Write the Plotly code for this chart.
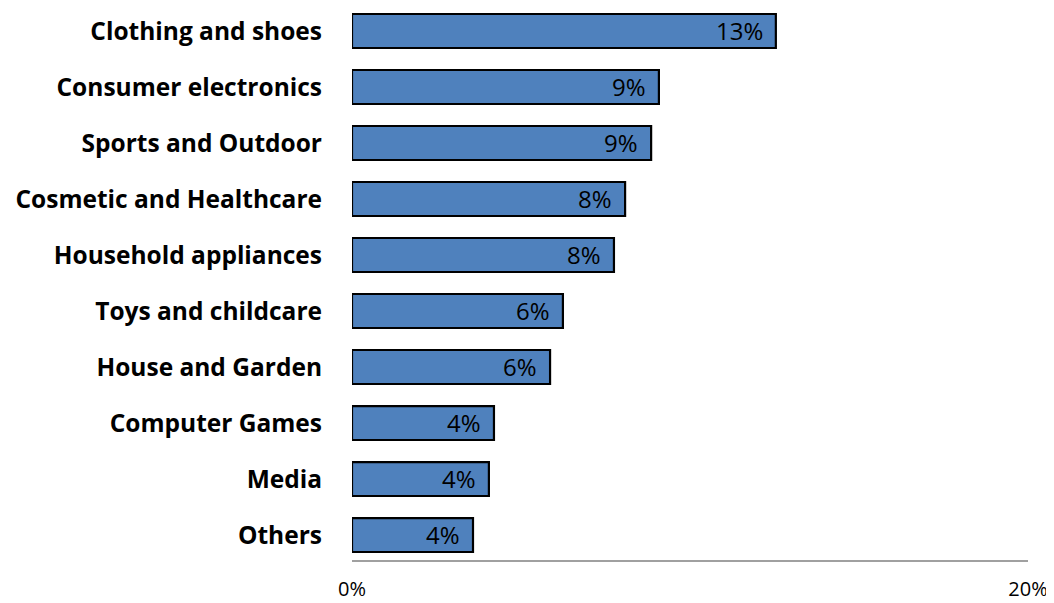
import plotly.graph_objects as go

categories = ["Clothing and shoes", "Consumer electronics", "Sports and Outdoor",
              "Cosmetic and Healthcare", "Household appliances", "Toys and childcare",
              "House and Garden", "Computer Games", "Media", "Others"]
values = [12.54, 9.08, 8.85, 8.08, 7.75, 6.24, 5.86, 4.2, 4.05, 3.58]
labels = ["13%", "9%", "9%", "8%", "8%", "6%", "6%", "4%", "4%", "4%"]
tick_vals = [0, 20]
tick_text = ["0%", "20%"]

fig = go.Figure(go.Bar(
    y=categories, x=values, orientation="h",
    marker=dict(color="#4F81BD", line=dict(color="black", width=2.2)),
    hoverinfo="skip",
))

for c, v, t in zip(categories, values, labels):
    fig.add_annotation(x=v, y=c, xref="x", yref="y", text=t, showarrow=False,
                       xanchor="right", xshift=-11, yshift=1,
                       font=dict(family="Open Sans", size=24, color="black"))

fig.update_layout(
    width=1046, height=595, plot_bgcolor="white", paper_bgcolor="white",
    margin=dict(l=344, r=26, t=0, b=43),
    bargap=0.393, showlegend=False,
    font=dict(family="Open Sans", color="black"),
)
fig.update_yaxes(range=[9.446, -0.411], showgrid=False, showline=False, ticks="",
                 ticklabelstandoff=29, automargin=False,
                 tickfont=dict(family="Open Sans", size=24.5, color="black", weight="bold"))
fig.update_xaxes(range=[0, 20], tickvals=tick_vals, ticktext=tick_text, showgrid=False,
                 showline=True, linecolor="#A0A0A0", linewidth=1.5, ticks="",
                 ticklabelstandoff=10, zeroline=False, automargin=False,
                 tickfont=dict(family="Open Sans", size=20, color="black"))

fig.write_html("out.html")
